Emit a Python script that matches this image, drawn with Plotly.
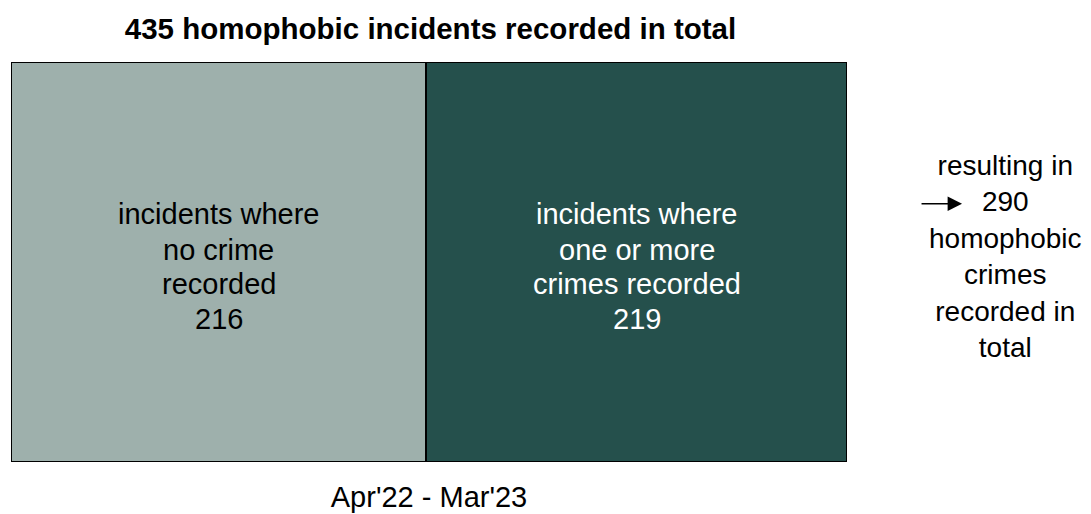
import plotly.graph_objects as go

# Incident breakdown, Apr'22 - Mar'23
period = ["Apr'22 - Mar'23"]
segment_labels = [
    ["incidents where", "no crime", "recorded"],
    ["incidents where", "one or more", "crimes recorded"],
]
segment_values = [216, 219]
segment_colors = ["#9eb0ac", "#25504c"]
segment_text_colors = ["#000000", "#ffffff"]
total_incidents = sum(segment_values)
crimes_recorded = 290

FONT = "Liberation Sans, Arial, sans-serif"
LABEL_SIZE = 29
# vertical centres (paper units) of the stacked label lines inside each bar
LINE_Y = [0.619, 0.531, 0.444, 0.3575]

fig = go.Figure()
start = 0
for label, value, color, tcolor in zip(segment_labels, segment_values,
                                       segment_colors, segment_text_colors):
    fig.add_trace(go.Bar(
        y=period,
        x=[value],
        orientation="h",
        width=1,
        marker=dict(color=color, line=dict(color="#000000", width=2)),
        cliponaxis=False,
        hoverinfo="skip",
        showlegend=False,
    ))
    mid = start + value / 2
    for line, ly in zip(label + [str(value)], LINE_Y):
        fig.add_annotation(
            x=mid, xref="x", y=ly, yref="paper",
            xanchor="center", yanchor="middle",
            text=line, showarrow=False,
            font=dict(family=FONT, size=LABEL_SIZE, color=tcolor),
        )
    start += value

# Arrow pointing to the crimes total
fig.add_annotation(
    xref="paper", yref="paper",
    x=1.1376, y=0.6455, ax=-42, ay=0,
    axref="pixel", ayref="pixel",
    text="", showarrow=True,
    arrowhead=2, arrowsize=1.8, arrowwidth=1.6, arrowcolor="#000000",
)
fig.add_annotation(
    xref="paper", yref="paper",
    x=1.189, y=0.515, xanchor="center", yanchor="middle",
    text=f"resulting in<br>{crimes_recorded}<br>homophobic<br>crimes<br>recorded in<br>total",
    showarrow=False, align="center",
    font=dict(family=FONT, size=28, color="#000000"),
)

fig.update_layout(
    barmode="stack",
    width=1091, height=514,
    margin=dict(l=11, r=244, t=62, b=52),
    paper_bgcolor="#ffffff",
    plot_bgcolor="#ffffff",
    title=dict(
        text=f"<b>{total_incidents} homophobic incidents recorded in total</b>",
        x=430.5 / 1091, xanchor="center",
        y=1 - 29 / 514, yanchor="middle", yref="container",
        font=dict(family=FONT, size=29.5, color="#000000"),
    ),
    xaxis=dict(
        range=[0, total_incidents], showgrid=False, zeroline=False,
        showticklabels=False, showline=False, ticks="", automargin=False,
        title=dict(text=period[0], standoff=24,
                   font=dict(family=FONT, size=29, color="#000000")),
    ),
    yaxis=dict(
        range=[-0.5, 0.5], showgrid=False, zeroline=False,
        showticklabels=False, showline=False, ticks="", automargin=False,
    ),
)

fig.write_html("out.html")
